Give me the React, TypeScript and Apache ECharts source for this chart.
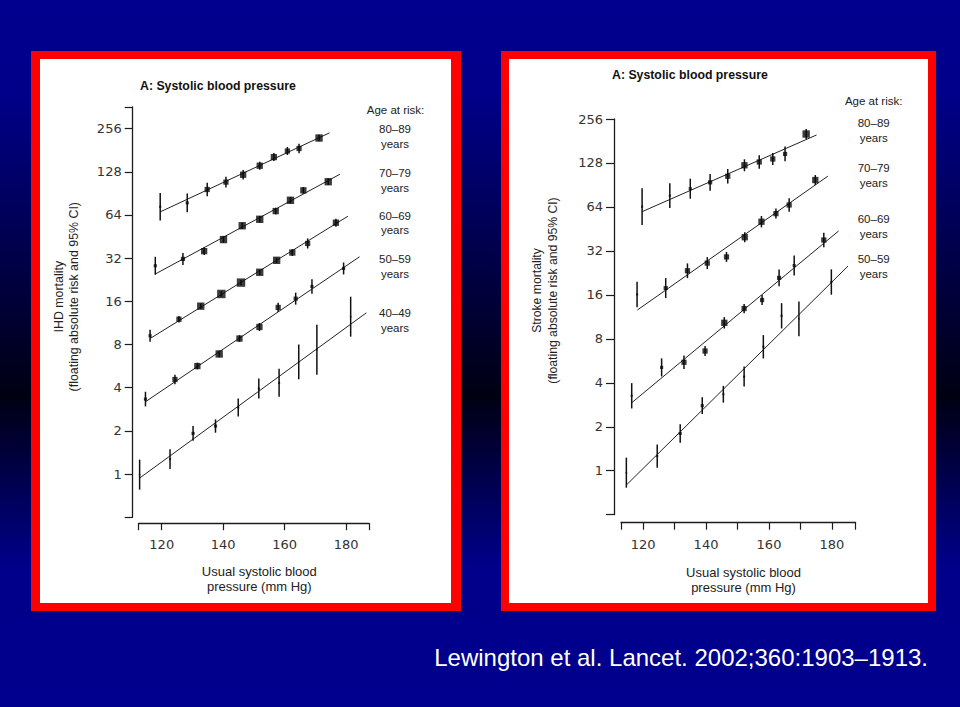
import React, { useEffect, useRef } from "react";
import * as echarts from "echarts";

// ---------- IHD mortality (left panel) ----------
const ihdAgeGroups = ["80–89", "70–79", "60–69", "50–59", "40–49"];
const ihdSbp = [
  [119.5, 128.3, 134.8, 140.9, 146.5, 151.9, 156.5, 160.9, 164.7, 171.2],
  [117.9, 126.9, 133.8, 140.1, 146.2, 151.9, 157.1, 161.9, 166.1, 174.2],
  [116.2, 125.6, 132.7, 139.4, 145.8, 151.9, 157.4, 162.5, 167.5, 176.7],
  [114.7, 124.3, 131.6, 138.7, 145.3, 151.8, 157.9, 163.6, 168.9, 179.2],
  [112.8, 122.7, 130.2, 137.5, 144.9, 151.6, 158.2, 164.6, 170.5, 181.5],
];
const ihdRisk = [
  [73, 77.7, 96.3, 108.4, 122, 141, 162, 178.5, 186, 220],
  [28.3, 31.6, 35.8, 43.1, 53.8, 59.7, 68.1, 81.0, 95.0, 109.1],
  [9.2, 12.0, 14.8, 18.0, 21.6, 25.5, 30.9, 35.0, 40.5, 56.5],
  [3.33, 4.56, 5.66, 6.87, 8.8, 10.6, 14.5, 16.7, 20.3, 27.1],
  [0.99, 1.27, 1.92, 2.16, 2.91, 3.94, 4.32, 6.06, 7.36, 12.5],
];
// multiplicative 95% CI factor (lower = risk / f, upper = risk * f)
const ihdCi = [
  [1.245, 1.162, 1.113, 1.089, 1.078, 1.066, 1.066, 1.066, 1.078, 1.055],
  [1.155, 1.101, 1.066, 1.055, 1.055, 1.055, 1.055, 1.055, 1.055, 1.055],
  [1.101, 1.055, 1.044, 1.044, 1.044, 1.044, 1.044, 1.055, 1.084, 1.066],
  [1.125, 1.078, 1.055, 1.055, 1.055, 1.066, 1.078, 1.101, 1.125, 1.101],
  [1.272, 1.174, 1.125, 1.113, 1.155, 1.174, 1.252, 1.321, 1.494, 1.378],
];
// relative statistical weight of each estimate (drawn as square size)
const ihdWeight = [
  [2, 3, 5, 5, 6, 6, 6, 5, 5, 7],
  [3, 4, 6, 7, 7, 7, 6, 7, 6, 7],
  [3, 5, 7, 8, 8, 7, 7, 6, 5, 6],
  [3, 5, 6, 7, 6, 6, 5, 4, 3, 3],
  [1.5, 2, 3, 3, 2, 2, 2, 1.5, 1.5, 1.5],
];
const ihdFitSbp = [
  [119.5, 174.6],
  [117.9, 178.0],
  [116.2, 180.6],
  [114.7, 184.4],
  [112.9, 186.6],
];
const ihdFitRisk = [
  [67.2, 239],
  [24.8, 123],
  [8.8, 62.7],
  [3.19, 32.7],
  [0.94, 13.3],
];

// ---------- Stroke mortality (right panel) ----------
const strokeAgeGroups = ["80–89", "70–79", "60–69", "50–59"];
const strokeSbp = [
  [119.7, 128.5, 135.0, 141.3, 146.9, 152.2, 156.9, 161.2, 165.1, 171.8],
  [118.1, 127.2, 134.1, 140.4, 146.5, 152.3, 157.6, 162.2, 166.4, 174.7],
  [116.4, 125.9, 133.0, 139.7, 145.8, 152.1, 157.8, 163.2, 168.0, 177.4],
  [114.7, 124.5, 131.8, 138.8, 145.5, 152.1, 158.2, 164.0, 169.5, 179.8],
];
const strokeRisk = [
  [64.3, 76.4, 85.3, 94.3, 103.8, 123.4, 130.0, 136.3, 147.5, 202],
  [16.1, 17.8, 23.4, 26.4, 29.1, 39.7, 50.7, 57.6, 66.0, 97.8],
  [3.26, 5.1, 5.53, 6.6, 10.3, 12.9, 14.75, 20.9, 25.4, 38.0],
  [0.97, 1.26, 1.8, 2.79, 3.34, 4.41, 7.06, 11.5, 10.97, 19.6],
];
const strokeCi = [
  [1.335, 1.215, 1.171, 1.141, 1.123, 1.099, 1.111, 1.099, 1.123, 1.082],
  [1.221, 1.171, 1.123, 1.099, 1.082, 1.082, 1.094, 1.082, 1.111, 1.082],
  [1.221, 1.153, 1.111, 1.082, 1.094, 1.076, 1.082, 1.141, 1.171, 1.123],
  [1.267, 1.202, 1.158, 1.141, 1.141, 1.171, 1.202, 1.221, 1.314, 1.221],
];
const strokeWeight = [
  [2, 2, 3, 4, 5, 6, 5, 5, 4, 7],
  [2, 4, 5, 5, 5, 6, 6, 5, 5, 6],
  [2, 3, 5, 5, 6, 5, 4, 4, 3, 5],
  [1.5, 2, 3, 3, 2, 2, 2, 2, 1.5, 2],
];
const strokeFitSbp = [
  [119.7, 175.1],
  [118.2, 178.7],
  [116.4, 182.1],
  [114.7, 185.1],
];
const strokeFitRisk = [
  [59.4, 199],
  [12.6, 104],
  [2.92, 43.8],
  [0.798, 25.2],
];

const yTickValues = [1, 2, 4, 8, 16, 32, 64, 128, 256];
const xTickValues = [120, 140, 160, 180];

const TICK_FONT = "DejaVu Sans";
const TEXT_FONT = "Liberation Sans, Arial, sans-serif";
const INK = "#1c1c1c";
const MARKER_SCALE = 1.05;

function groupSeries(
  panel: number,
  sbp: number[],
  risk: number[],
  ci: number[],
  weight: number[],
  fitX: number[],
  fitY: number[],
  name: string
) {
  return [
    {
      type: "line",
      name: name + " fit",
      xAxisIndex: panel,
      yAxisIndex: panel,
      data: [
        [fitX[0], fitY[0]],
        [fitX[1], fitY[1]],
      ],
      symbol: "none",
      showSymbol: false,
      lineStyle: { color: "#222", width: 1 },
      silent: true,
      z: 2,
    },
    {
      type: "custom",
      name: name + " CI",
      xAxisIndex: panel,
      yAxisIndex: panel,
      data: sbp.map((x, i) => [x, risk[i] / ci[i], risk[i] * ci[i]]),
      encode: { x: 0, y: [1, 2] },
      renderItem: (params: any, api: any) => {
        const x = api.value(0);
        const p1 = api.coord([x, api.value(1)]);
        const p2 = api.coord([x, api.value(2)]);
        return {
          type: "line",
          shape: { x1: p1[0], y1: p1[1], x2: p2[0], y2: p2[1] },
          style: { stroke: "#111", lineWidth: 1.5 },
        };
      },
      silent: true,
      z: 3,
    },
    {
      type: "scatter",
      name: name,
      xAxisIndex: panel,
      yAxisIndex: panel,
      symbol: "rect",
      data: sbp.map((x, i) => [x, risk[i], weight[i]]),
      symbolSize: (v: number[]) => v[2] * MARKER_SCALE,
      itemStyle: { color: "#0a0a0a" },
      silent: true,
      z: 4,
    },
  ];
}

function yAxisDef(grid: number, max: number, offset: number) {
  return {
    gridIndex: grid,
    type: "log",
    logBase: 2,
    min: 0.5,
    max,
    offset,
    axisLine: { show: true, lineStyle: { color: INK, width: 1.3 } },
    axisTick: { show: true, length: 8, lineStyle: { color: INK, width: 1.2 } },
    axisLabel: {
      margin: 11,
      color: "#333",
      fontFamily: TICK_FONT,
      fontSize: 13,
      formatter: (v: number) => {
        const r = Math.round(v);
        return Math.abs(v - r) < 1e-6 && yTickValues.indexOf(r) >= 0 ? String(r) : "";
      },
    },
    splitLine: { show: false },
  };
}

function xAxisDef(grid: number, min: number, max: number, offset: number) {
  return {
    gridIndex: grid,
    type: "value",
    min,
    max,
    offset,
    axisLine: { show: true, lineStyle: { color: INK, width: 1.3 } },
    axisTick: { show: true, length: 7, lineStyle: { color: INK, width: 1.2 } },
    axisLabel: {
      margin: 15,
      color: "#333",
      fontFamily: TICK_FONT,
      fontSize: 13,
      showMinLabel: true,
      showMaxLabel: true,
      formatter: (v: number) => (xTickValues.indexOf(Math.round(v * 1000) / 1000) >= 0 ? String(v) : ""),
    },
    splitLine: { show: false },
  };
}

function text(t: string, x: number, y: number, extra: any = {}) {
  return {
    type: "text",
    z: 20,
    silent: true,
    style: {
      text: t,
      x,
      y,
      fill: "#222",
      font: `11.5px ${TEXT_FONT}`,
      textAlign: "center",
      textVerticalAlign: "middle",
      ...extra,
    },
  };
}

function buildOption() {
  const series: any[] = [];
  ihdAgeGroups.forEach((g, i) =>
    series.push(...groupSeries(0, ihdSbp[i], ihdRisk[i], ihdCi[i], ihdWeight[i], ihdFitSbp[i], ihdFitRisk[i], "IHD " + g))
  );
  strokeAgeGroups.forEach((g, i) =>
    series.push(
      ...groupSeries(1, strokeSbp[i], strokeRisk[i], strokeCi[i], strokeWeight[i], strokeFitSbp[i], strokeFitRisk[i], "Stroke " + g)
    )
  );

  const ihdLabelY = [129.3, 173.3, 215.7, 259.3, 313.3];
  const strokeLabelY = [123.3, 168.3, 219.3, 259.3];

  const graphic: any[] = [
    // panel frames
    { type: "rect", z: -10, silent: true, shape: { x: 31, y: 51, width: 430, height: 560 }, style: { fill: "#ff0000" } },
    { type: "rect", z: -9, silent: true, shape: { x: 40, y: 59, width: 411, height: 544 }, style: { fill: "#ffffff" } },
    { type: "rect", z: -10, silent: true, shape: { x: 501, y: 51, width: 435, height: 560 }, style: { fill: "#ff0000" } },
    { type: "rect", z: -9, silent: true, shape: { x: 509, y: 59, width: 419, height: 544 }, style: { fill: "#ffffff" } },
    // titles
    text("A: Systolic blood pressure", 140, 86, { textAlign: "left", font: `bold 12.3px ${TEXT_FONT}`, fill: "#111" }),
    text("A: Systolic blood pressure", 612, 75, { textAlign: "left", font: `bold 12.3px ${TEXT_FONT}`, fill: "#111" }),
    // legend headers
    text("Age at risk:", 395.5, 109.5),
    text("Age at risk:", 873.7, 100.7),
    // y axis names
    {
      type: "text",
      z: 20,
      silent: true,
      x: 66,
      y: 296.7,
      rotation: Math.PI / 2,
      style: {
        text: "IHD mortality\n(floating absolute risk and 95% CI)",
        fill: "#222",
        font: `12.4px ${TEXT_FONT}`,
        textAlign: "center",
        textVerticalAlign: "middle",
        lineHeight: 15,
      },
    },
    {
      type: "text",
      z: 20,
      silent: true,
      x: 545,
      y: 290.5,
      rotation: Math.PI / 2,
      style: {
        text: "Stroke mortality\n(floating absolute risk and 95% CI)",
        fill: "#222",
        font: `12.2px ${TEXT_FONT}`,
        textAlign: "center",
        textVerticalAlign: "middle",
        lineHeight: 16.5,
      },
    },
    // x axis names
    text("Usual systolic blood\npressure (mm Hg)", 259.3, 579.2, { font: `13px ${TEXT_FONT}`, lineHeight: 15 }),
    text("Usual systolic blood\npressure (mm Hg)", 743.5, 580, { font: `13px ${TEXT_FONT}`, lineHeight: 14.6 }),
    // citation
    text("Lewington et al. Lancet. 2002;360:1903–1913.", 928, 657, {
      textAlign: "right",
      font: `24px ${TEXT_FONT}`,
      fill: "#ffffff",
    }),
  ];
  ihdAgeGroups.forEach((g, i) => {
    graphic.push(text(g, 395, ihdLabelY[i]));
    graphic.push(text("years", 395, ihdLabelY[i] + 14.5));
  });
  strokeAgeGroups.forEach((g, i) => {
    graphic.push(text(g, 873.7, strokeLabelY[i]));
    graphic.push(text("years", 873.7, strokeLabelY[i] + 14.2));
  });

  return {
    animation: false,
    backgroundColor: {
      type: "linear",
      x: 0,
      y: 0,
      x2: 0,
      y2: 1,
      colorStops: [
        { offset: 0, color: "#00008e" },
        { offset: 0.13, color: "#00008a" },
        { offset: 0.56, color: "#000012" },
        { offset: 0.8, color: "#00008a" },
        { offset: 1, color: "#00008e" },
      ],
    },
    grid: [
      { left: 138.7, top: 107, width: 230.4, height: 410.2, containLabel: false },
      { left: 621, top: 119, width: 234.6, height: 395.7, containLabel: false },
    ],
    xAxis: [xAxisDef(0, 112.5, 187.5, 6), xAxisDef(1, 113, 187.5, 8)],
    yAxis: [yAxisDef(0, 362, 6), yAxisDef(1, 256, 7)],
    series,
    graphic,
  };
}

export default function App() {
  const ref = useRef<HTMLDivElement>(null);
  useEffect(() => {
    if (!ref.current) return;
    const chart = echarts.init(ref.current, null, { renderer: "svg" });
    chart.setOption(buildOption() as any);
    return () => chart.dispose();
  }, []);
  return <div ref={ref} style={{ position: "absolute", left: 0, top: 0, width: 960, height: 707 }} />;
}
